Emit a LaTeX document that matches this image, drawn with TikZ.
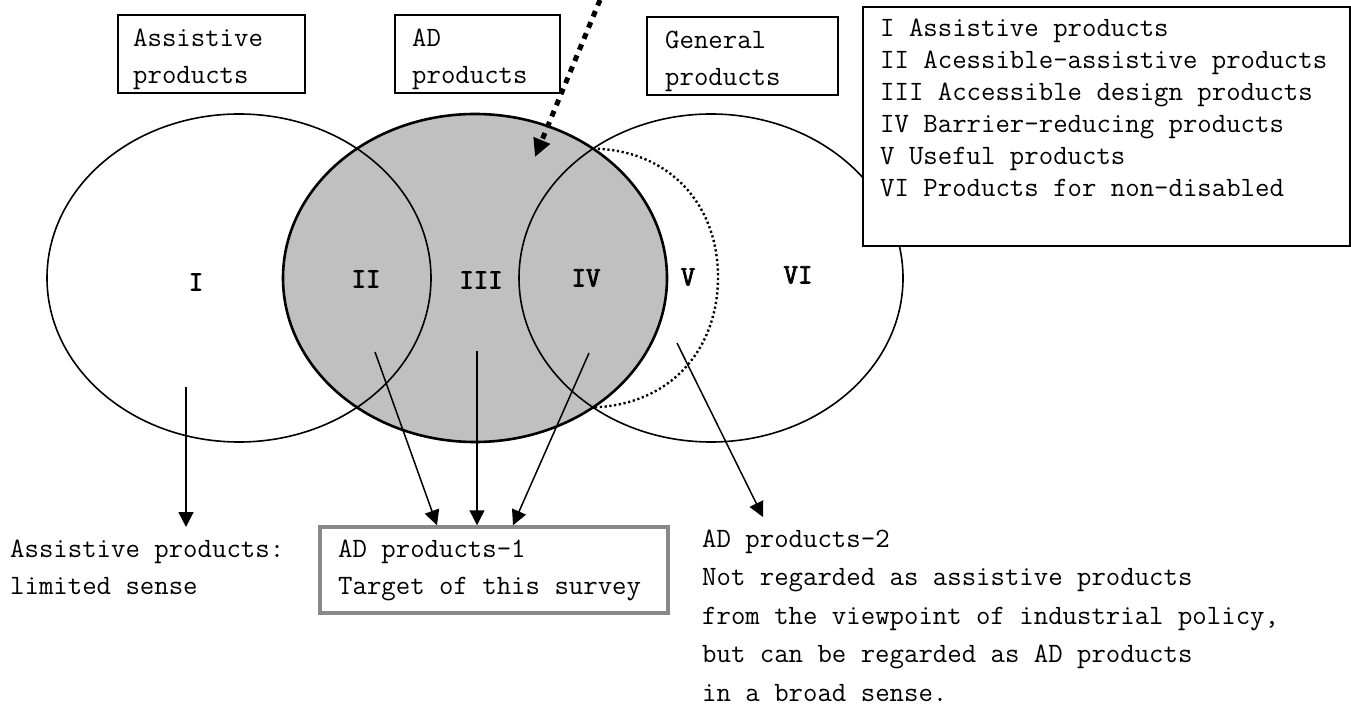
\documentclass[tikz,border=0pt]{standalone}
\usepackage{fontspec}
\newfontfamily\romanbold[FakeBold=3]{Latin Modern Mono}
\usetikzlibrary{arrows.meta}
\definecolor{adgray}{RGB}{192,192,192}
\definecolor{boxgray}{RGB}{136,136,136}
\begin{document}
\begin{tikzpicture}[x=1pt,y=-1pt,
  txt/.style={font=\ttfamily\fontsize{28}{37}\selectfont, inner sep=0pt, anchor=base west},
  legtxt/.style={font=\ttfamily\fontsize{28}{32}\selectfont, inner sep=0pt, anchor=base west},
  roman/.style={font=\romanbold\fontsize{28}{30}\selectfont, inner sep=0pt},
  catbox/.style={draw, line width=1.6pt, inner sep=0pt},
  thinarrow/.style={line width=1.5pt, -{Triangle[length=15pt,width=15pt]}},
  bigarrow/.style={line width=5pt, dash pattern=on 6pt off 6pt, -{Triangle[length=18pt,width=17pt]}},
  venn/.style={line width=1.6pt}
]
\useasboundingbox (0,0) rectangle (1351,708);

% Venn ellipses
\fill[adgray] (475,278) ellipse [x radius=192pt, y radius=164pt];
\coordinate (ixT) at (593,148.6);
\coordinate (ixB) at (593,407.4);
\coordinate (dR) at (718,277);
\draw[line width=2.4pt, dash pattern=on 2.2pt off 2.6pt]
  (ixT) .. controls (670,150) and (718,205) .. (dR)
        .. controls (718,350) and (670,405) .. (ixB);
\draw[venn] (239,278) ellipse [x radius=192pt, y radius=164pt];
\draw[venn] (711,278) ellipse [x radius=192pt, y radius=164pt];
\draw[line width=2.6pt] (475,278) ellipse [x radius=192pt, y radius=164pt];

% region labels
\node[roman] (rI)   at (196,282) {I};
\node[roman] (rII)  at (366,279) {II};
\node[roman] (rIII) at (481,280) {III};
\node[roman] (rIV)  at (586,278) {IV};
\node[roman] (rV)   at (688,277) {V};
\node[roman] (rVI)  at (798,275) {VI};

% category boxes
\node[catbox, minimum width=187pt, minimum height=78pt] (bAss) at (211.5,54) {};
\node[txt] (tAss) at (133,47) {\vtop{\hbox{Assistive}\hbox{products}}};
\node[catbox, minimum width=165pt, minimum height=78pt] (bAD) at (477.5,54) {};
\node[txt] (tAD) at (412,47) {\vtop{\hbox{AD}\hbox{products}}};
\node[catbox, minimum width=191pt, minimum height=78pt] (bGen) at (742.5,56) {};
\node[txt] (tGen) at (665,49) {\vtop{\hbox{General}\hbox{products}}};

% legend
\node[draw, fill=white, line width=1.8pt, inner sep=0pt, minimum width=487pt, minimum height=239pt] (leg) at (1106.5,126.5) {};
\node[legtxt] (tLeg) at (880,36.7) {\vtop{%
  \hbox{I Assistive products}%
  \hbox{II Acessible-assistive products}%
  \hbox{III Accessible design products}%
  \hbox{IV Barrier-reducing products}%
  \hbox{V Useful products}%
  \hbox{VI Products for non-disabled}}};

% bottom texts
\node[txt] (tLim) at (10,557) {\vtop{\hbox{Assistive products:}\hbox{limited sense}}};
\node[draw=boxgray, line width=3.5pt, inner sep=0pt, minimum width=348pt, minimum height=86pt] (bAD1) at (494,570) {};
\node[txt] (tAD1) at (338,557) {\vtop{\hbox{AD products-1}\hbox{Target of this survey}}};
\node[txt, font=\ttfamily\fontsize{28}{38.5}\selectfont] (tAD2) at (702,547) {\vtop{%
  \hbox{AD products-2}%
  \hbox{Not regarded as assistive products}%
  \hbox{from the viewpoint of industrial policy,}%
  \hbox{but can be regarded as AD products}%
  \hbox{in a broad sense.}}};

% arrows
\coordinate (sI) at (186,387);
\coordinate (eI) at (186,527);
\coordinate (sII) at (375,352);
\coordinate (sIII) at (477,351);
\coordinate (sIV) at (589,353);
\coordinate (sV) at (677,343);
\coordinate (eV) at (763,517);
\coordinate (bigS) at (600,0);
\coordinate (bigE) at (535,157);

\draw[thinarrow] (sI) -- (eI);
\draw[thinarrow] (sII) -- ([xshift=-57pt]bAD1.north);
\draw[thinarrow] (sIII) -- ([xshift=-17pt]bAD1.north);
\draw[thinarrow] (sIV) -- ([xshift=19pt]bAD1.north);
\draw[thinarrow] (sV) -- (eV);
\draw[bigarrow] (bigS) -- (bigE);
\end{tikzpicture}
\end{document}
